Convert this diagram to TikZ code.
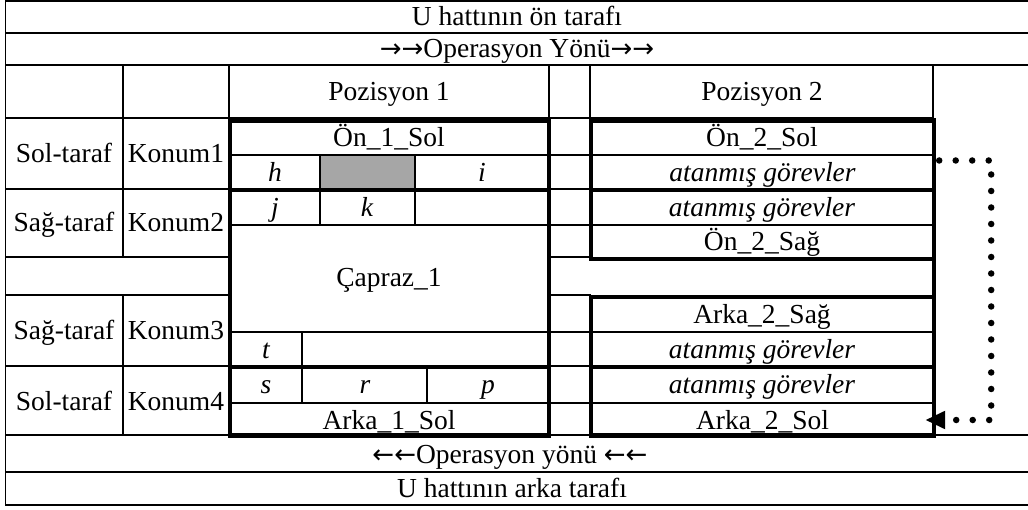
\documentclass[tikz,border=0pt]{standalone}
\usepackage{fontspec}
\setmainfont{Liberation Serif}
\newfontfamily\arrowfont{DejaVu Sans}
\usetikzlibrary{arrows.meta}
\tikzset{
  rule/.style={line width=1.7pt, line cap=rect},
  boxline/.style={line width=4.5pt},
  lbl/.style={font=\fontsize{27.5}{30}\selectfont, inner sep=0pt, text height=18pt, text depth=0pt},
  ital/.style={lbl, font=\fontsize{27.5}{30}\selectfont\itshape},
  cellp/.style={ital, minimum width=343pt},
  graycell/.style={fill=black!35},
  dotline/.style={line width=6.5pt, line cap=round, dash pattern=on 0pt off 16.5pt,
    -{Triangle[length=20pt,width=17pt]}},
}
\newcommand{\arw}[1]{{\arrowfont\fontsize{26}{30}\selectfont #1}}
\begin{document}
\begin{tikzpicture}[x=1pt,y=-1pt]
\useasboundingbox (0,0) rectangle (1028,510);
% gray cell
\fill[graycell] (320,155) rectangle (415,190);
% thin horizontal rules
\draw[rule] (5.5,1) -- (1028,1);
\draw[rule] (5.5,33) -- (1028,33);
\draw[rule] (5.5,65) -- (1028,65);
\draw[rule] (5.5,118) -- (933,118);
\draw[rule] (229,155) -- (933,155);
\draw[rule] (5.5,189) -- (933,189);
\draw[rule] (229,225) -- (933,225);
\draw[rule] (5.5,257) -- (229,257);
\draw[rule] (549,257) -- (590,257);
\draw[rule] (5.5,295) -- (229,295);
\draw[rule] (549,295) -- (590,295);
\draw[rule] (229,332) -- (933,332);
\draw[rule] (5.5,366) -- (933,366);
\draw[rule] (229,403) -- (933,403);
\draw[rule] (5.5,435) -- (1028,435);
\draw[rule] (5.5,472) -- (1028,472);
\draw[rule] (5.5,505) -- (1028,505);
% thin vertical rules
\draw[rule] (5.5,1) -- (5.5,505);
\draw[rule] (123,65) -- (123,257);
\draw[rule] (123,295) -- (123,435);
\draw[rule] (229,65) -- (229,435);
\draw[rule] (549,65) -- (549,118);
\draw[rule] (590,65) -- (590,118);
\draw[rule] (933,65) -- (933,118);
\draw[rule] (320,155) -- (320,225);
\draw[rule] (415,155) -- (415,225);
\draw[rule] (302,332) -- (302,403);
\draw[rule] (427,366) -- (427,403);
% thick boxes
\draw[boxline] (230,120.5) rectangle (549,435.5);
\draw[boxline] (230,190) -- (549,190);
\draw[boxline] (230,367) -- (549,367);
\draw[boxline] (591,120.5) rectangle (934,259);
\draw[boxline] (591,190) -- (934,190);
\draw[boxline] (591,297) rectangle (934,435.5);
\draw[boxline] (591,367) -- (934,367);
\draw[boxline] (934,259) -- (934,297);
% texts
\node[lbl] (top1) at (517,17) {U hattının ön tarafı};
\node[lbl] (top2) at (517,49) {\arw{→→}Operasyon Yönü\arw{→→}};
\node[lbl] (pos1) at (389,91.5) {Pozisyon 1};
\node[lbl] (pos2) at (762,91.5) {Pozisyon 2};
\node[lbl] (l1a) at (64,154) {Sol-taraf};
\node[lbl] (l1b) at (176,154) {Konum1};
\node[lbl] (l2a) at (64,223) {Sağ-taraf};
\node[lbl] (l2b) at (176,223) {Konum2};
\node[lbl] (l3a) at (64,330.5) {Sağ-taraf};
\node[lbl] (l3b) at (176,330.5) {Konum3};
\node[lbl] (l4a) at (64,401) {Sol-taraf};
\node[lbl] (l4b) at (176,401) {Konum4};
\node[lbl] (on1) at (389,137.5) {Ön\_1\_Sol};
\node[ital] (h) at (275,172.5) {h};
\node[ital] (i) at (482,172.5) {i};
\node[ital] (j) at (275,207.5) {j};
\node[ital] (k) at (367,207.5) {k};
\node[lbl] (cap) at (389,278) {Çapraz\_1};
\node[ital] (t) at (266,349.5) {t};
\node[ital] (s) at (266,385) {s};
\node[ital] (r) at (365,385) {r};
\node[ital] (p) at (488,385) {p};
\node[lbl] (ark1) at (389,420) {Arka\_1\_Sol};
\node[lbl] (on2sol) at (762,137.5) {Ön\_2\_Sol};
\node[cellp] (p2b) at (762.5,172.5) {atanmış görevler};
\node[ital] (p2c) at (762,207.5) {atanmış görevler};
\node[lbl] (on2sag) at (762,242) {Ön\_2\_Sağ};
\node[lbl] (ark2sag) at (762,314.5) {Arka\_2\_Sağ};
\node[ital] (p2f) at (762,349.5) {atanmış görevler};
\node[ital] (p2g) at (762,385) {atanmış görevler};
\node[lbl, minimum width=343pt] (ark2sol) at (762.5,420) {Arka\_2\_Sol};
\node[lbl] (opb) at (510,454) {\arw{←←}Operasyon yönü \arw{←←}};
\node[lbl] (ub) at (512,488.5) {U hattının arka tarafı};
% dotted connector
\draw[dotline] ([shift={(5pt,12pt)}]p2b.east) -- ++(52pt,0pt) |- ([xshift=-9pt]ark2sol.east);
\end{tikzpicture}
\end{document}
